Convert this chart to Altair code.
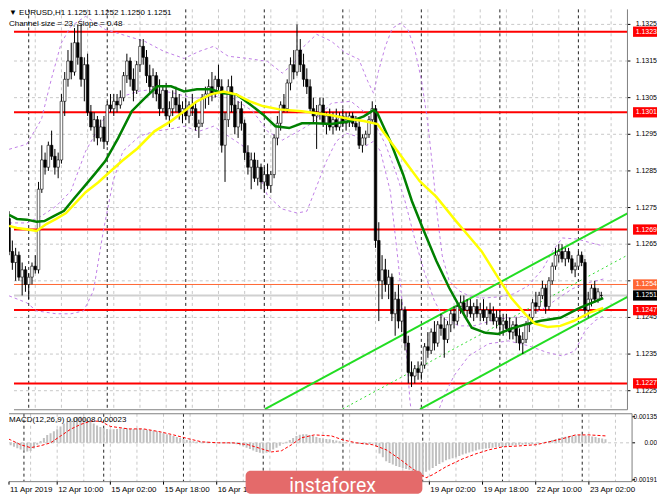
import altair as alt
import pandas as pd

FONT = "Liberation Sans"
BASE = 1.12
PIP = 0.0001

# ---------------- candles (pips above 1.1200), bar 0 = 11 Apr 18:00 H1 ----------------
bar_open = [72,63,60,62,56,58,54,56,59,58,
            80,88,86,92,89,86,88,104,110,115,
            112,120,116,110,114,101,97,99,94,97,
            93,103,102,104,103,105,111,115,110,107,
            114,119,116,111,108,111,106,102,107,100,
            102,105,103,101,102,100,103,102,97,98,
            105,106,108,106,110,108,92,99,108,103,
            97,102,98,90,86,88,83,86,82,84,
            81,84,94,98,103,102,109,114,112,118,
            114,110,108,102,100,101,103,98,100,97,
            99,97,100,98,99,100,98,97,92,94,
            95,99,102,66,55,58,54,56,46,50,
            44,47,38,30,29,31,30,32,37,36,
            41,38,43,42,39,43,46,44,48,49,
            47,48,46,48,46,47,45,47,46,44,
            45,43,44,42,41,43,40,38,39,43,
            45,49,48,51,53,48,55,59,62,63,
            61,63,61,58,59,62,60,47,50,53,
            50,51]
bar_high = [74,66,64,63,60,59,57,60,62,82,
            92,90,93,96,91,90,106,112,118,120,
            124,125,125,116,117,103,101,100,99,100,
            104,106,106,106,107,112,117,116,113,115,
            121,121,118,114,113,112,110,108,109,104,
            107,108,106,104,105,104,106,104,99,106,
            108,110,112,111,114,110,101,110,111,106,
            104,104,99,92,90,90,88,87,86,87,
            85,95,100,104,106,110,116,118,125,121,
            117,113,110,105,103,105,105,101,102,101,
            102,101,102,101,101,101,100,99,95,96,
            100,104,103,71,62,61,58,57,52,54,
            50,48,40,33,32,33,33,38,41,42,
            44,44,46,45,44,47,48,49,51,51,
            50,50,49,50,49,50,48,49,48,47,
            47,46,46,45,44,45,42,41,44,46,
            50,52,52,55,54,56,60,64,65,65,
            64,64,62,60,63,63,61,52,54,55,
            53,52]
bar_low = [62,58,55,55,51,52,50,54,57,57,
           79,84,85,88,84,83,87,100,108,110,
           111,114,108,104,100,96,93,92,93,91,
           92,101,100,101,102,104,109,108,104,106,
           112,114,109,106,105,104,100,101,99,97,
           100,101,99,98,99,98,100,96,94,97,
           102,103,104,105,107,90,82,97,101,95,
           94,96,88,84,80,82,81,80,79,80,
           79,83,92,96,101,101,107,110,111,112,
           108,106,101,98,91,99,97,95,96,95,
           96,96,97,96,97,97,96,91,90,92,
           94,98,64,44,50,52,50,44,40,42,
           41,36,27,26,27,28,28,31,34,35,
           36,37,40,34,38,41,42,43,46,46,
           45,45,44,45,44,44,43,44,43,42,
           41,40,41,39,39,38,36,35,38,41,
           44,46,47,50,46,47,54,58,60,60,
           59,60,57,56,58,59,45,45,48,49,
           49,50]
bar_close = [63,60,62,56,58,54,56,59,58,80,
             88,86,92,89,86,88,104,110,115,112,
             120,116,110,114,101,97,99,94,97,93,
             103,102,104,103,105,111,115,110,107,114,
             119,116,111,108,111,106,102,107,100,102,
             105,103,101,102,100,103,102,97,98,105,
             106,108,106,110,108,92,99,108,103,97,
             102,98,90,86,88,83,86,82,84,81,
             84,94,98,103,102,109,114,112,118,114,
             110,108,102,100,101,103,98,100,97,99,
             97,100,98,99,100,98,97,92,94,95,
             99,102,66,55,58,54,56,46,50,44,
             47,38,30,29,31,30,32,37,36,41,
             38,43,42,39,43,46,44,48,49,47,
             48,46,48,46,47,45,47,46,44,45,
             43,44,42,41,43,40,38,39,43,45,
             49,48,51,53,48,55,59,62,63,61,
             63,61,58,59,62,60,47,50,53,50,
             52,51]

# ---------------- indicator lines (bar, pips) ----------------
green_bar = [0,2.4,5.4,8.4,10.8,13.8,16.8,19.8,23.4,26.4,29.4,33.3,37.5,41.4,45.3,49.5,53.5,57.4,61.6,65.5,
             69.4,73.6,77.5,81.4,85.6,89.5,93.4,98.5,104.5,108.4,111.4,112.6,116.5,120.4,123.1,126.4,130.6,
             134.5,137.5,139.6,141.4,145.6,149.5,153.4,158.6,162.5,168.5,174.4,181.6]
green_pips = [73.0,71.9,71.7,71.1,71.3,72.7,74.1,77.4,81.2,84.4,87.7,93.9,101.3,104.8,108.1,108.1,106.7,107.3,
              107.3,106.2,105.9,103.2,100.5,97.2,96.7,98.0,98.0,97.8,98.6,99.9,101.6,100.7,93.1,84.1,76.8,
              69.4,60.4,53.1,48.2,44.9,42.2,40.8,40.5,41.9,43.3,44.1,44.9,47.6,50.3]
yellow_bar = [0,2.4,5.4,8.4,11.4,14.4,17.4,23.4,27.3,29.4,34.5,39.3,44.4,49.5,53.5,57.4,61.6,65.5,69.4,73.6,
              77.5,82.6,89.5,94.6,98.5,104.5,108.4,112.6,116.5,121.6,125.5,130.6,136.6,138.4,144.4,149.5,
              153.5,157.7,160.7,164.6,168.5,172.7,177.5,181.6]
yellow_pips = [70.0,69.4,69.1,68.6,70.5,71.9,73.5,79.2,81.9,83.6,87.7,91.2,95.8,98.6,101.3,104.0,105.9,106.7,
               105.9,104.0,102.7,101.8,101.3,100.7,100.2,99.1,98.6,97.8,93.1,86.9,82.2,77.9,71.3,69.4,63.1,
               55.8,50.3,46.0,43.3,42.4,42.7,44.1,46.3,47.6]
bb_up_bar = [0,5.4,9.9,12.9,15.9,18.9,23.4,29.4,35.4,41.4,47.4,53.5,58.0,62.5,67.0,73.0,79.0,83.5,87.1,90.1,
             94.0,98.5,103.0,106.9,109.6,111.4,112.9,115.0,117.1,119.5,121.9,124.0,126.1,127.9,129.4,130.9,
             132.4,134.5,137.5,140.5,145.0,149.5,154.1,158.6,163.1,166.1,169.1,173.6,178.1,181.7]
bb_up_pips = [90.9,92.3,99.1,110.0,119.8,124.5,127.2,123.6,122.0,120.4,117.6,115.7,117.6,119.0,116.3,115.7,
              114.9,111.7,114.4,119.0,122.3,120.4,117.1,115.5,109.5,106.2,112.2,119.0,123.9,125.3,123.6,
              118.2,109.5,98.6,86.3,72.7,61.8,55.0,52.3,50.9,50.3,50.6,51.4,53.6,58.2,63.1,66.7,66.4,65.3,64.5]
bb_mid_bar = [0,5.4,9.9,14.4,18.9,23.4,29.4,34.8,39.9,44.4,50.5,56.5,62.5,68.5,74.5,79.0,83.5,88.0,92.5,98.5,
              104.5,109.0,112.0,115.0,118.0,121.0,124.0,127.0,130.0,133.0,137.5,142.0,149.5,158.6,163.1,
              167.6,172.1,176.6,181.7]
bb_mid_pips = [70.8,70.8,72.7,75.4,79.5,90.4,99.9,105.4,106.8,107.3,106.2,104.8,105.4,104.8,101.3,95.8,93.4,
               95.6,98.0,103.5,104.0,100.8,97.5,92.3,85.2,76.8,66.4,57.2,49.5,44.6,42.7,42.7,44.6,45.4,47.3,
               50.1,52.8,54.4,55.5]
bb_lo_bar = [0,5.4,8.4,14.4,18.9,22.8,25.8,28.8,31.8,34.8,39.9,44.4,48.9,53.5,58.0,62.5,67.0,71.5,76.0,79.0,
             83.5,88.0,91.0,94.0,97.0,100.0,103.0,106.0,109.0,111.4,113.5,116.5,118.9,121.0,122.5,123.7,
             127.0,130.0,133.0,136.0,140.5,146.5,152.6,158.6,164.6,169.1,173.0,176.0,179.0,181.7]
bb_lo_pips = [50.9,49.0,46.8,46.0,46.0,46.8,52.3,68.6,82.2,90.4,94.5,95.8,96.4,97.2,95.8,97.2,94.5,91.8,85.0,
              78.2,74.6,73.5,74.0,80.8,87.7,93.1,95.3,94.5,91.8,93.1,90.4,79.5,60.4,41.3,22.3,14.1,11.4,16.8,
              23.6,29.1,34.5,37.8,38.6,37.3,35.4,34.5,35.9,41.3,44.1,45.4]

# regression channel (end points, bar / pips)
chan_upper = [(78.2, 20.0), (189.0, 73.4)]
chan_lower = [(125.6, 20.0), (189.0, 50.6)]
chan_center = [(101.9, 20.0), (189.0, 62.0)]

# horizontal levels
red_levels = [1.1323, 1.1301, 1.1269, 1.1247, 1.1227]
ask_level = 1.1254
bid_level = 1.1251
grid_prices = [1.1225, 1.1235, 1.1245, 1.1255, 1.1265, 1.1275, 1.1285, 1.1295, 1.1305, 1.1315, 1.1325]
label_prices = [1.1225, 1.1235, 1.1245, 1.1265, 1.1275, 1.1285, 1.1295, 1.1305, 1.1315, 1.1325]

# time axis (labels under the watermark are not visible in the original)
grid_bars = [8,16,24,32,40,48,56,64,72,80,88,96,104,112,120,128,136,144,152,160,168,176,184]
day_bars = [6,30,54,78,102,126,150,174]
label_bars = [0,16,32,48,64,128,144,160,176]
label_text = ["11 Apr 2019","12 Apr 10:00","15 Apr 02:00","15 Apr 18:00","16 Apr 10:00",
              "19 Apr 02:00","19 Apr 18:00","22 Apr 10:00","23 Apr 02:00"]

# MACD (units of 0.00001)
macd_hist = [-5,-8,-12,-20,-28,-35,-40,-45,-42,-30,
             -10,10,25,40,50,60,70,85,100,112,
             122,130,134,135,130,120,110,100,90,82,
             75,72,70,70,72,74,76,75,72,72,
             74,74,70,68,66,63,60,55,50,45,
             40,35,30,25,20,15,12,8,5,5,
             5,5,4,3,3,0,-2,-2,-3,-5,
             -8,-12,-18,-25,-32,-40,-47,-52,-55,-52,
             -45,-35,-25,-15,-5,5,15,25,35,42,
             45,44,40,35,30,25,22,20,18,15,
             12,8,5,3,0,-2,-3,-5,-7,-8,
             -6,-4,-20,-55,-75,-95,-105,-112,-120,-125,
             -130,-135,-140,-148,-155,-162,-170,-150,-140,-130,
             -120,-110,-100,-90,-85,-80,-75,-68,-60,-55,
             -50,-45,-40,-35,-32,-30,-28,-25,-22,-20,
             -18,-16,-15,-14,-12,-10,-10,-9,-8,-7,
             -5,-3,0,5,10,15,20,25,30,32,
             35,38,38,40,40,38,35,33,30,25,
             22,18]
sig_bar = [0,2,5,8,11,14,17,20,23,26,29,32,37.5,42,47,51,55.5,59.5,64.5,69,73.5,77.5,80.5,83.5,86.5,89.5,
           93.4,98.5,102,106,111,115,119,123,127,129,133,138,142,146,150,155,160,164,168,172,176,181]
sig_val = [30,15,-10,-25,-15,0,35,70,95,112,112,85,72,72,57,41,21,5,0,0,-10,-31,-47,-41,-10,26,41,36,15,0,
           -10,-36,-83,-135,-181,-165,-124,-83,-57,-36,-21,-16,-10,5,21,41,41,36]
macd_ticks = [135, 0, -191]
macd_tick_text = ["0.00135", "0.00", "-0.00191"]

# plot-area extents (bar units / price units)
X_LEFT, X_EDGE, X_RIGHT = 1.5, 189.0, 196.5
TICK_END = 189.9
P_LOW, P_HIGH = 1.12198, 1.13291
M_LOW, M_HIGH = -201, 150.5

W = 649          # drawing width (plot + right price scale)
H_MAIN, H_MACD = 401, 68


def to_price(vals):
    return [BASE + v * PIP for v in vals]


XS = alt.Scale(domain=[X_LEFT, X_RIGHT], nice=False, zero=False)
YS = alt.Scale(domain=[P_LOW, P_HIGH], nice=False, zero=False)
MS = alt.Scale(domain=[M_LOW, M_HIGH], nice=False, zero=False)

n = len(bar_close)
candles = pd.DataFrame({
    "bar": list(range(n)),
    "o": to_price(bar_open), "h": to_price(bar_high),
    "l": to_price(bar_low), "c": to_price(bar_close),
    "dir": ["up" if c >= o else "down" for o, c in zip(bar_open, bar_close)],
})

X_NONE = alt.X("bar:Q", scale=XS, axis=None)


def yq(field):
    return alt.Y(field, scale=YS, axis=None)


def ym(field):
    return alt.Y(field, scale=MS, axis=None)


def hrules(values, color, width, dash=None, scale_fn=yq):
    df = pd.DataFrame({"p": values, "x0": X_LEFT, "x1": X_EDGE})
    kw = dict(color=color, strokeWidth=width)
    if dash:
        kw["strokeDash"] = dash
    return alt.Chart(df).mark_rule(**kw).encode(
        x=alt.X("x0:Q", scale=XS, axis=None), x2="x1:Q", y=scale_fn("p:Q"))


def right_text(df, field_y, scale_fn, color, size):
    return alt.Chart(df).mark_text(
        align="right", baseline="middle", font=FONT, fontSize=size, color=color
    ).encode(x=alt.value(W), y=scale_fn(field_y), text="lab:N")


# ---------------- main panel ----------------
grid_h = hrules(grid_prices, "#C8C8C8", 1, [3, 3])
grid_v = alt.Chart(pd.DataFrame({"bar": grid_bars})).mark_rule(
    color="#C8C8C8", strokeDash=[3, 3], strokeWidth=1).encode(x=X_NONE)
day_sep = alt.Chart(pd.DataFrame({"bar": day_bars})).mark_rule(
    color="#222", strokeDash=[3, 3], strokeWidth=1).encode(x=X_NONE)

bid = hrules([bid_level], "#D0D0D0", 2)
ask = hrules([ask_level], "#FF6633", 1)
reds = hrules(red_levels, "#FF0000", 2)

band_df = pd.concat([
    pd.DataFrame({"bar": bb_up_bar, "p": to_price(bb_up_pips), "k": "up"}),
    pd.DataFrame({"bar": bb_mid_bar, "p": to_price(bb_mid_pips), "k": "mid"}),
    pd.DataFrame({"bar": bb_lo_bar, "p": to_price(bb_lo_pips), "k": "lo"}),
])
bands = alt.Chart(band_df).mark_line(
    color="#C07FE6", strokeDash=[3, 3], strokeWidth=1, clip=True
).encode(x=X_NONE, y=yq("p:Q"), detail="k:N", order="bar:Q")

chan_df = pd.concat([
    pd.DataFrame({"bar": [a for a, _ in chan_upper], "p": to_price([b for _, b in chan_upper]), "k": "u"}),
    pd.DataFrame({"bar": [a for a, _ in chan_lower], "p": to_price([b for _, b in chan_lower]), "k": "l"}),
])
chan = alt.Chart(chan_df).mark_line(color="#22DD22", strokeWidth=2, clip=True).encode(
    x=X_NONE, y=yq("p:Q"), detail="k:N")
chan_c = alt.Chart(pd.DataFrame({"bar": [a for a, _ in chan_center],
                                 "p": to_price([b for _, b in chan_center])})).mark_line(
    color="#33DD33", strokeWidth=1, strokeDash=[2, 3], clip=True).encode(x=X_NONE, y=yq("p:Q"))

wick = alt.Chart(candles).mark_rule(color="#000", strokeWidth=1, clip=True).encode(
    x=X_NONE, y=yq("l:Q"), y2="h:Q")
body = alt.Chart(candles).mark_bar(width=2.6, stroke="#000", strokeWidth=0.6, clip=True).encode(
    x=X_NONE, y=yq("o:Q"), y2="c:Q",
    color=alt.Color("dir:N", scale=alt.Scale(domain=["up", "down"], range=["#FFFFFF", "#000000"]), legend=None))

green = alt.Chart(pd.DataFrame({"bar": green_bar, "p": to_price(green_pips)})).mark_line(
    color="#008000", strokeWidth=2.5, clip=True).encode(x=X_NONE, y=yq("p:Q"))
yellow = alt.Chart(pd.DataFrame({"bar": yellow_bar, "p": to_price(yellow_pips)})).mark_line(
    color="#FFFF00", strokeWidth=2.5, clip=True).encode(x=X_NONE, y=yq("p:Q"))

# right price scale drawn inside the drawing area
tick_df = pd.DataFrame({"p": grid_prices, "x0": X_EDGE, "x1": TICK_END})
p_ticks = alt.Chart(tick_df).mark_rule(color="#000", strokeWidth=1).encode(
    x=alt.X("x0:Q", scale=XS, axis=None), x2="x1:Q", y=yq("p:Q"))
lab_df = pd.DataFrame({"p": label_prices})
lab_df["lab"] = [f"{v:.4f}" for v in label_prices]
p_labels = right_text(lab_df, "p:Q", yq, "#000", 7)

box_df = pd.DataFrame({
    "p": red_levels + [ask_level, bid_level],
    "col": ["#FF0000"] * 5 + ["#FF6633", "#000000"],
})
box_df["lab"] = [f"{v:.4f}" for v in box_df["p"]]
box_df["lo"] = box_df["p"] - 0.00014
box_df["hi"] = box_df["p"] + 0.00014
boxes = alt.Chart(box_df).mark_rect().encode(
    x=alt.value(625), x2=alt.value(W), y=yq("lo:Q"), y2="hi:Q", color=alt.Color("col:N", scale=None))
box_txt = right_text(box_df, "p:Q", yq, "#FFFFFF", 7)

frame_main = alt.Chart(pd.DataFrame({"bar": [X_EDGE]})).mark_rule(color="#808080", strokeWidth=1).encode(x=X_NONE)
bottom_main = hrules([P_LOW], "#808080", 1)

hdr1 = alt.Chart(pd.DataFrame({"t": ["\u25BC EURUSD,H1  1.1251 1.1252 1.1250 1.1251"]})).mark_text(
    align="left", baseline="middle", font=FONT, fontSize=8, color="#000"
).encode(x=alt.value(0), y=alt.value(4), text="t:N")
hdr2 = alt.Chart(pd.DataFrame({"t": ["Channel size = 23, Slope = 0.48"]})).mark_text(
    align="left", baseline="middle", font=FONT, fontSize=8, color="#000"
).encode(x=alt.value(0), y=alt.value(15), text="t:N")

main = alt.layer(
    grid_h, grid_v, day_sep, bid, ask, reds, bands, chan, chan_c, wick, body,
    green, yellow, p_ticks, p_labels, boxes, box_txt, frame_main, bottom_main, hdr1, hdr2
).properties(width=W, height=H_MAIN)

# ---------------- MACD panel ----------------
hist_df = pd.DataFrame({"bar": list(range(len(macd_hist))), "v": macd_hist})

grid_v2 = alt.Chart(pd.DataFrame({"bar": grid_bars})).mark_rule(
    color="#C8C8C8", strokeDash=[3, 3], strokeWidth=1).encode(x=X_NONE)
zero = hrules([0], "#C8C8C8", 1, [3, 3], scale_fn=ym)
day_sep2 = alt.Chart(pd.DataFrame({"bar": day_bars})).mark_rule(
    color="#222", strokeDash=[3, 3], strokeWidth=1).encode(x=X_NONE)
hist = alt.Chart(hist_df).mark_rule(color="#C0C0C0", strokeWidth=2, clip=True).encode(
    x=X_NONE, y=ym("v:Q"), y2=alt.Y2Datum(0))
sig = alt.Chart(pd.DataFrame({"bar": sig_bar, "v": sig_val})).mark_line(
    color="#FF0000", strokeDash=[3, 2], strokeWidth=1, clip=True).encode(x=X_NONE, y=ym("v:Q"))

mt_df = pd.DataFrame({"v": macd_ticks, "lab": macd_tick_text, "x0": X_EDGE, "x1": TICK_END})
m_ticks = alt.Chart(mt_df).mark_rule(color="#000", strokeWidth=1).encode(
    x=alt.X("x0:Q", scale=XS, axis=None), x2="x1:Q", y=ym("v:Q"))
m_labels = right_text(mt_df, "v:Q", ym, "#000", 6.5)
frame_m = alt.Chart(pd.DataFrame({"bar": [X_EDGE]})).mark_rule(color="#808080", strokeWidth=1).encode(x=X_NONE)
edges_m = hrules([M_LOW, M_HIGH], "#808080", 1, scale_fn=ym)

# time labels under the MACD panel
time_df = pd.DataFrame({"bar": label_bars, "lab": label_text})
time_df["pos"] = [max(b, X_LEFT) for b in label_bars]
t_ticks = alt.Chart(time_df).mark_rule(color="#000", strokeWidth=1).encode(
    x=alt.X("pos:Q", scale=XS, axis=None), y=alt.value(H_MACD), y2=alt.value(H_MACD + 3))
t_labels = alt.Chart(time_df).mark_text(
    align="left", baseline="middle", font=FONT, fontSize=8, color="#000", dx=1
).encode(x=alt.X("pos:Q", scale=XS, axis=None), y=alt.value(H_MACD + 8), text="lab:N")

mhdr = alt.Chart(pd.DataFrame({"t": ["MACD(12,26,9) 0.00008 0.00023"]})).mark_text(
    align="left", baseline="middle", font=FONT, fontSize=8, color="#000"
).encode(x=alt.value(0), y=alt.value(6), text="t:N")
wm_rect = alt.Chart(pd.DataFrame({"t": [""]})).mark_rect(
    color="#E46A6A", cornerRadius=5
).encode(x=alt.value(237), x2=alt.value(414), y=alt.value(57), y2=alt.value(80))
wm_text = alt.Chart(pd.DataFrame({"t": ["instaforex"]})).mark_text(
    align="center", baseline="middle", font="Roboto", fontSize=19.5, color="#FFFFFF"
).encode(x=alt.value(324), y=alt.value(72), text="t:N")

macd = alt.layer(
    grid_v2, zero, day_sep2, hist, sig, m_ticks, m_labels, frame_m, edges_m, mhdr,
    t_ticks, t_labels, wm_rect, wm_text
).properties(width=W, height=H_MACD)

chart = alt.vconcat(main, macd, spacing=2).properties(
    padding={"left": 0, "top": 0, "right": 0, "bottom": 0},
    background="#FFFFFF",
).configure_view(stroke=None)

chart.save("out.html", embed_options={"renderer": "svg", "actions": False})
